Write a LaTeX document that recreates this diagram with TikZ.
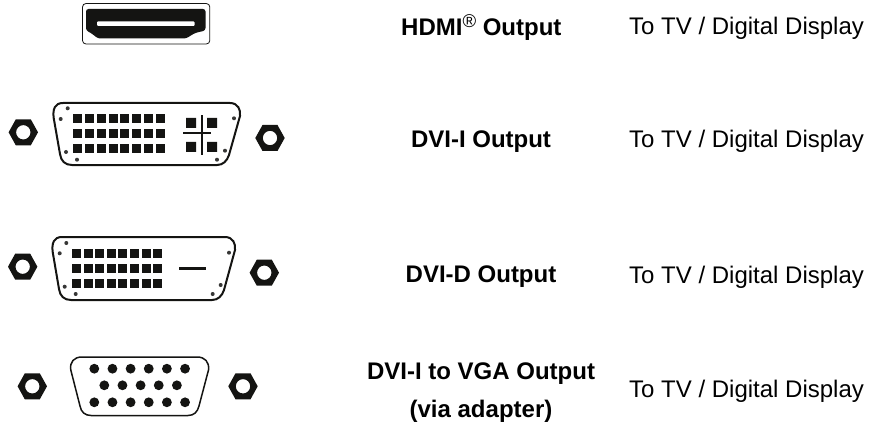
\documentclass[tikz,border=0pt]{standalone}
\usepackage{fontspec}
\setmainfont{Liberation Sans}
\definecolor{ink}{HTML}{141412}
\tikzset{
  x=1pt,y=-1pt,
  lbl/.style={inner sep=0pt,anchor=base west,font=\fontsize{24}{28}\selectfont,text=black},
  headlbl/.style={inner sep=0pt,anchor=base,font=\fontsize{24}{28}\selectfont\bfseries,text=black},
  shell/.style={draw=ink,line width=2pt,fill=white},
  pinsq/.style={fill=ink,draw=none},
  screwdot/.style={fill=ink!85,draw=none},
}
\newcommand{\hexnut}[2]{%
  \fill[ink,even odd rule] (#1-14.7,#2) -- (#1-7.5,#2-13) -- (#1+7.5,#2-13) -- (#1+14.7,#2) -- (#1+7.5,#2+13) -- (#1-7.5,#2+13) -- cycle (#1,#2) circle (7.2);
}
\newcommand{\pinrow}[5]{% x0, pitch, y, w, h
  \foreach \k in {0,...,7} \fill[pinsq] ({#1+\k*#2},#3) rectangle ++(#4,#5);
}
\begin{document}
\begin{tikzpicture}
\useasboundingbox (0,0) rectangle (870,425);
% HDMI
\draw[ink,line width=0.8pt,rounded corners=3.5pt,fill=white] (82.5,3.5) rectangle (209.8,44);
\fill[ink,rounded corners=2.5pt] (86,9) -- (205.5,9) -- (205.5,30.5) -- (195,33) -- (186,38.5) -- (98,38.5) -- (91,33) -- (86,30.5) -- cycle;
\fill[white,rounded corners=1pt] (97,21.5) rectangle (194.5,26);
% DVI-I
\draw[shell] (63,103) -- (230,103) .. controls (238,103) and (241,110) .. (240,116) -- (229,155) .. controls (227,161) and (223,165) .. (217,165) -- (72,165) .. controls (65,165) and (61,161) .. (60,154) -- (53.7,118) .. controls (52.5,109) and (55,103) .. (63,103) -- cycle;
\foreach \yy in {114,129,144} \pinrow{73}{11.86}{\yy}{9}{9};
\fill[pinsq] (186,118) rectangle (196,128) (207,118) rectangle (217,128) (186,142) rectangle (196,152) (207,142) rectangle (217,152);
\fill[ink] (201,115) rectangle (202.5,155.5);
\fill[ink] (183,132.3) rectangle (211,134.3);
\foreach \px/\py in {67.7/108.3,60.7/119,66/152,77/159.7,217/159.7,225/150.7,234/118.3} \fill[screwdot] (\px,\py) circle (2);
\hexnut{23.3}{132.3}
\hexnut{270}{138}
% DVI-D
\draw[shell] (62,237) -- (225,237) .. controls (233,237) and (236,244) .. (235,250) -- (224,290) .. controls (222,296) and (218,300) .. (212,300) -- (71,300) .. controls (64,300) and (60,296) .. (59,289) -- (52.7,252) .. controls (51.5,243) and (54,237) .. (62,237) -- cycle;
\foreach \yy in {249,264,279} \pinrow{72}{11.6}{\yy}{9}{9};
\fill[ink] (179,267) rectangle (205.7,269.5);
\foreach \px/\py in {66.3/243,59.7/253.3,64.7/286.7,75.7/294,212.7/294,220.7/285,229/252.7} \fill[screwdot] (\px,\py) circle (2);
\hexnut{22.7}{266.7}
\hexnut{264.3}{272.7}
% VGA
\draw[draw=ink,line width=1.5pt,fill=white] (82,357) -- (197,357) .. controls (205,357) and (209.5,362) .. (208.5,370) -- (199,406) .. controls (197.5,412) and (194,415.5) .. (188,415.5) -- (91,415.5) .. controls (85,415.5) and (81,412) .. (80,406) -- (70.8,370) .. controls (69.5,362) and (74,357) .. (82,357) -- cycle;
\foreach \k in {0,...,5} {
  \fill[ink] ({94.3+\k*18.15},368.7) circle (4.9);
  \fill[ink] ({94.3+\k*18.15},402.3) circle (4.9);
}
\foreach \k in {0,...,4} \fill[ink] ({104.3+\k*18.15},385.3) circle (4.9);
\hexnut{32.3}{386.3}
\hexnut{243}{386.3}
% labels
\node[headlbl] (h1) at (481.3,36) {HDMI\raisebox{8pt}{\fontsize{18.5}{20}\selectfont\mdseries\textregistered} Output};
\node[headlbl] (h2) at (481,147) {DVI-I Output};
\node[headlbl] (h3) at (481,282.8) {DVI-D Output};
\node[headlbl] (h4) at (481,379) {DVI-I to VGA Output};
\node[headlbl] (h5) at (481,417) {(via adapter)};
\node[lbl] (t1) at (629,35) {To TV / Digital Display};
\node[lbl] (t2) at (629,147) {To TV / Digital Display};
\node[lbl] (t3) at (629,283.5) {To TV / Digital Display};
\node[lbl] (t4) at (629,397.7) {To TV / Digital Display};
\end{tikzpicture}
\end{document}
